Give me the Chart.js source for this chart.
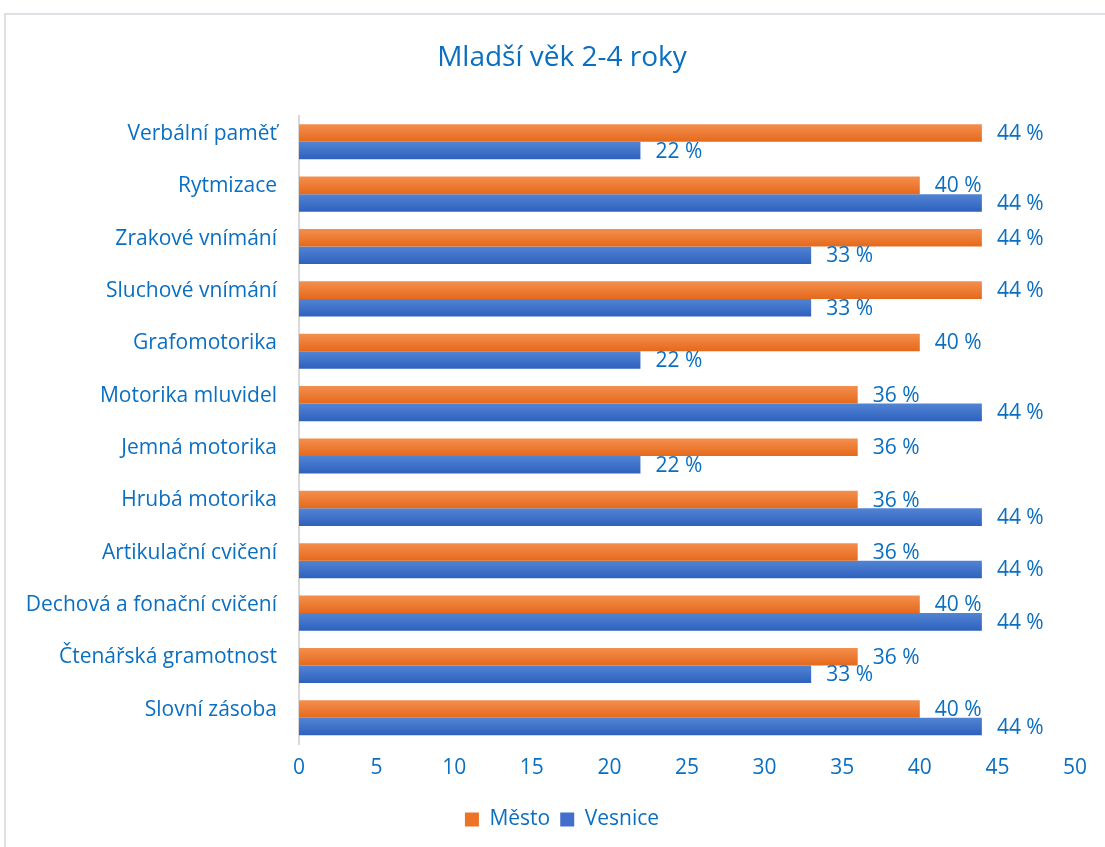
<!DOCTYPE html>
<html>
<head>
<meta charset="utf-8">
<script src="https://cdn.jsdelivr.net/npm/chart.js@4.4.1/dist/chart.umd.min.js"></script>
<style>
  html, body { margin: 0; padding: 0; background: #fff; overflow: hidden; }
  #frame { position: absolute; left: 4px; top: 13px; width: 1200px; height: 900px;
           border-top: 2px solid #dde1e6; border-left: 2px solid #dde1e6; }
  #wrap { position: absolute; left: 0; top: 0; width: 1105px; height: 847px; }
</style>
</head>
<body>
<div id="frame"></div>
<div id="wrap"><canvas id="chart"></canvas></div>
<script>
const categories = [
  'Verbální paměť', 'Rytmizace', 'Zrakové vnímání', 'Sluchové vnímání',
  'Grafomotorika', 'Motorika mluvidel', 'Jemná motorika', 'Hrubá motorika',
  'Artikulační cvičení', 'Dechová a fonační cvičení', 'Čtenářská gramotnost', 'Slovní zásoba'
];
const mesto   = [44, 40, 44, 44, 40, 36, 36, 36, 36, 40, 36, 40];
const vesnice = [22, 44, 33, 33, 22, 44, 22, 44, 44, 44, 33, 44];
const xTicks  = [0, 5, 10, 15, 20, 25, 30, 35, 40, 45, 50];

const BLUE_TEXT = '#0a6fc2';
const FONT = 'Open Sans';
const CAT_PCT = 0.67;

// vertical gradient per bar, like the Excel original
function barFill(top, bottom) {
  return function (c) {
    const chart = c.chart;
    const y = chart.scales.y;
    if (!chart.chartArea || !y || c.dataIndex === undefined) return top;
    const center = y.getPixelForValue(c.dataIndex);
    const band = Math.abs(y.getPixelForValue(1) - y.getPixelForValue(0));
    const h = band * CAT_PCT / 2;
    const y0 = c.datasetIndex === 0 ? center - h : center;
    const g = chart.ctx.createLinearGradient(0, y0, 0, y0 + h);
    g.addColorStop(0, top);
    g.addColorStop(1, bottom);
    return g;
  };
}

const valueLabels = {
  id: 'valueLabels',
  afterDatasetsDraw(chart) {
    const ctx = chart.ctx;
    ctx.save();
    ctx.font = '21px "' + FONT + '"';
    ctx.fillStyle = BLUE_TEXT;
    ctx.textAlign = 'left';
    ctx.textBaseline = 'middle';
    chart.data.datasets.forEach((ds, i) => {
      chart.getDatasetMeta(i).data.forEach((bar, j) => {
        ctx.fillText(ds.data[j] + ' %', bar.x + 15, bar.y + 1);
      });
    });
    ctx.restore();
  }
};

new Chart(document.getElementById('chart'), {
  type: 'bar',
  data: {
    labels: categories,
    datasets: [
      { label: 'Město', data: mesto, backgroundColor: barFill('#f48f4e', '#e5691b'),
        categoryPercentage: CAT_PCT, barPercentage: 1.0 },
      { label: 'Vesnice', data: vesnice, backgroundColor: barFill('#5284d4', '#2e61bd'),
        categoryPercentage: CAT_PCT, barPercentage: 1.0 }
    ]
  },
  options: {
    indexAxis: 'y',
    responsive: true,
    maintainAspectRatio: false,
    animation: false,
    // uneven side padding keeps title and legend centred a bit right, as in the original
    layout: { padding: { left: 49, right: 30, top: 0, bottom: 7 } },
    plugins: {
      title: {
        display: true,
        text: 'Mladší věk 2-4 roky',
        color: BLUE_TEXT,
        font: { family: FONT, size: 28, weight: 'normal' },
        padding: { top: 41, bottom: 41 }
      },
      legend: {
        position: 'bottom',
        labels: {
          color: BLUE_TEXT,
          font: { family: FONT, size: 21 },
          boxWidth: 14, boxHeight: 14, padding: 10,
          generateLabels(chart) {
            const items = Chart.defaults.plugins.legend.labels.generateLabels(chart);
            const flat = ['#ed7424', '#4070cc'];
            items.forEach((it, k) => { it.fillStyle = flat[k]; it.strokeStyle = flat[k]; it.lineWidth = 0; });
            return items;
          }
        }
      },
      tooltip: { enabled: false }
    },
    scales: {
      x: {
        min: 0, max: 50,
        afterBuildTicks(axis) { axis.ticks = xTicks.map(v => ({ value: v })); },
        afterFit(axis) { axis.height = 55; },
        grid: { display: false, drawTicks: false },
        border: { display: false },
        ticks: { color: BLUE_TEXT, font: { family: FONT, size: 21 }, padding: 11 }
      },
      y: {
        afterFit(axis) {
          axis.width = 250;
          // long category names reach into the left padding, so don't clip them
          axis._computeLabelArea = () => null;
        },
        grid: { display: false, drawTicks: false },
        border: { display: true, color: '#d9d9d9', width: 2 },
        ticks: { color: BLUE_TEXT, font: { family: FONT, size: 21 }, padding: 22, labelOffset: -8 }
      }
    }
  },
  plugins: [valueLabels]
});
</script>
</body>
</html>
